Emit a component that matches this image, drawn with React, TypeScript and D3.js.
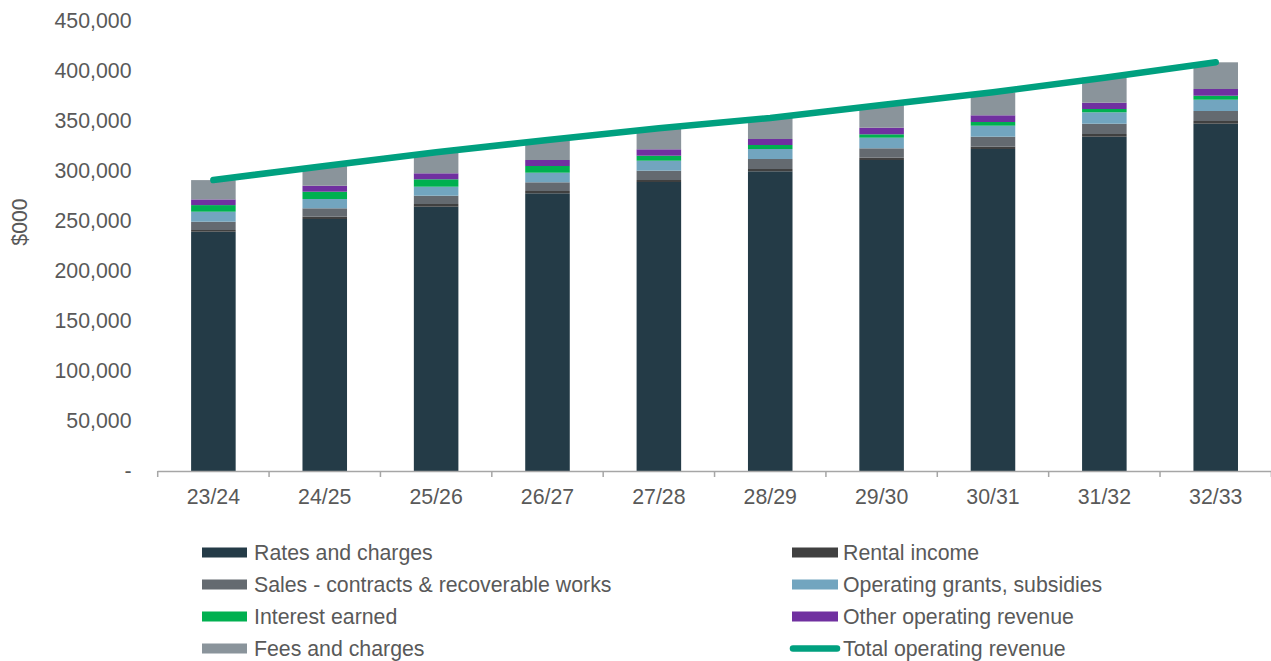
import React from 'react';
import * as d3 from 'd3';

const categories = ['23/24', '24/25', '25/26', '26/27', '27/28', '28/29', '29/30', '30/31', '31/32', '32/33'];
const ratesAndCharges = [239300, 252000, 264300, 277700, 289000, 299700, 311000, 322000, 334300, 347300];
const rentalIncome = [1700, 2300, 2700, 2300, 2000, 2300, 2300, 2300, 2700, 2700];
const salesContracts = [8300, 8400, 8300, 8700, 9300, 10000, 9400, 10000, 10300, 10000];
const operatingGrants = [10000, 9300, 9000, 9600, 10000, 10000, 10600, 11000, 11400, 11300];
const interestEarned = [6600, 7300, 7400, 6700, 5000, 4000, 3400, 3700, 3300, 4000];
const otherOperating = [5700, 6000, 6000, 6000, 6400, 6000, 6600, 6700, 6300, 6700];
const feesAndCharges = [19300, 19700, 21000, 20000, 21000, 21000, 22700, 23000, 25000, 26700];
const totalOperating = [291000, 305000, 318700, 331000, 342700, 353000, 366000, 378700, 393300, 408700];
const yTicks = [0, 50000, 100000, 150000, 200000, 250000, 300000, 350000, 400000, 450000];

const series = [
  { name: 'Rates and charges', values: ratesAndCharges, color: '#243b47' },
  { name: 'Rental income', values: rentalIncome, color: '#404040' },
  { name: 'Sales - contracts & recoverable works', values: salesContracts, color: '#646a70' },
  { name: 'Operating grants, subsidies', values: operatingGrants, color: '#72a5bf' },
  { name: 'Interest earned', values: interestEarned, color: '#00b050' },
  { name: 'Other operating revenue', values: otherOperating, color: '#7030a0' },
  { name: 'Fees and charges', values: feesAndCharges, color: '#8a949b' },
];
const lineColor = '#00a07f';

const W = 1271;
const H = 661;
const FONT = 'Liberation Sans, Arial, sans-serif';
const TXT = '#595959';
const FS = 21.3;

export default function App() {
  const x = d3.scaleBand<string>().domain(categories).range([157.7, 1271.4]).paddingInner(0.6).paddingOuter(0.3);
  const y = d3.scaleLinear().domain([0, 450000]).range([471, 21]);
  const step = x.step();
  const x0 = 157.7;

  const table = categories.map((c, i) => {
    const row: any = { cat: c };
    series.forEach((s) => (row[s.name] = s.values[i]));
    return row;
  });
  const stacked = d3.stack<any>().keys(series.map((s) => s.name))(table);

  const line = d3
    .line<number>()
    .x((_, i) => (x(categories[i]) as number) + x.bandwidth() / 2)
    .y((d) => y(d));

  const fmt = d3.format(',');

  const legendLeft = [0, 2, 4, 6];
  const legendRight = [1, 3, 5];
  const rowY = (r: number) => 552.5 + r * 32;

  return (
    <svg width={W} height={H} style={{ position: 'absolute', left: 0, top: 0, background: '#fff' }} fontFamily={FONT}>
      {yTicks.map((t) => (
        <text key={t} x={131.5} y={y(t)} dy="0.35em" textAnchor="end" fontSize={FS} fill={TXT}>
          {t === 0 ? '-' : fmt(t)}
        </text>
      ))}
      <text transform={`translate(20,${222}) rotate(-90)`} textAnchor="middle" dy="0.35em" fontSize={FS} fill={TXT}>
        $000
      </text>

      {stacked.map((layer, li) => (
        <g key={layer.key} fill={series[li].color}>
          {layer.map((d, i) => (
            <rect
              key={i}
              x={x(categories[i])}
              width={x.bandwidth()}
              y={y(d[1])}
              height={Math.max(0, y(d[0]) - y(d[1]))}
            />
          ))}
        </g>
      ))}

      <line x1={x0} x2={W} y1={471.5} y2={471.5} stroke="#a6a6a6" strokeWidth={1.5} />
      {d3.range(categories.length + 1).map((i) => (
        <line key={i} x1={x0 + i * step} x2={x0 + i * step} y1={471} y2={477} stroke="#a6a6a6" strokeWidth={1.5} />
      ))}
      {categories.map((c) => (
        <text key={c} x={(x(c) as number) + x.bandwidth() / 2} y={497} dy="0.35em" textAnchor="middle" fontSize={FS} fill={TXT}>
          {c}
        </text>
      ))}

      <path d={line(totalOperating) || ''} fill="none" stroke={lineColor} strokeWidth={6.5} strokeLinecap="round" />

      {legendLeft.map((si, r) => (
        <g key={si}>
          <rect x={202} y={rowY(r) - 5} width={45} height={10} fill={series[si].color} />
          <text x={254} y={rowY(r)} dy="0.35em" fontSize={FS} fill={TXT}>
            {series[si].name}
          </text>
        </g>
      ))}
      {legendRight.map((si, r) => (
        <g key={si}>
          <rect x={792} y={rowY(r) - 5} width={46} height={10} fill={series[si].color} />
          <text x={843} y={rowY(r)} dy="0.35em" fontSize={FS} fill={TXT}>
            {series[si].name}
          </text>
        </g>
      ))}
      <line x1={793} x2={837} y1={rowY(3)} y2={rowY(3)} stroke={lineColor} strokeWidth={6.5} strokeLinecap="round" />
      <text x={843} y={rowY(3)} dy="0.35em" fontSize={FS} fill={TXT}>
        Total operating revenue
      </text>
    </svg>
  );
}
